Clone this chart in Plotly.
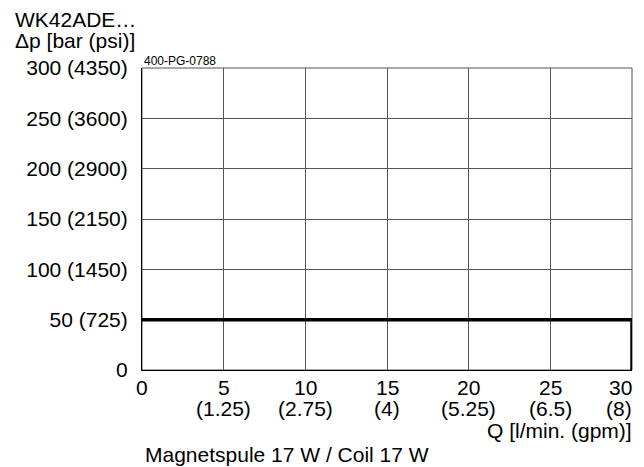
import plotly.graph_objects as go

# Data
flow_q = [0, 30, 30]          # l/min
dp_bar = [50, 50, 0]          # bar
x_ticks = [0, 5, 10, 15, 20, 25, 30]
x_tick_main = ["0", "5", "10", "15", "20", "25", "30"]
x_tick_gpm = ["", "(1.25)", "(2.75)", "(4)", "(5.25)", "(6.5)", "(8)"]
y_ticks = [0, 50, 100, 150, 200, 250, 300]
y_tick_text = ["0", "50 (725)", "100 (1450)", "150 (2150)", "200 (2900)", "250 (3600)", "300 (4350)"]

FONT = "Liberation Sans, Arial, sans-serif"
FS = 21

fig = go.Figure()
fig.add_trace(go.Scatter(
    x=flow_q, y=dp_bar, mode="lines",
    line=dict(color="black", width=3.5),
    cliponaxis=False, showlegend=False, hoverinfo="skip",
))

L, R, T, B = 142, 12, 68, 97
W, H = 644, 467
plot_w = W - L - R

annotations = []
for xv, m, g in zip(x_ticks, x_tick_main, x_tick_gpm):
    anchor = "right" if xv == x_ticks[-1] else "center"
    xs = 2 if xv == x_ticks[-1] else 0
    annotations.append(dict(x=xv, y=0, xref="x", yref="paper", text=m, showarrow=False,
                            xanchor=anchor, yanchor="middle", yshift=-17, xshift=xs,
                            font=dict(size=FS, color="black", family=FONT)))
    if g:
        annotations.append(dict(x=xv, y=0, xref="x", yref="paper", text=g, showarrow=False,
                                xanchor=anchor, yanchor="middle", yshift=-38, xshift=xs,
                                font=dict(size=FS, color="black", family=FONT)))

annotations += [
    dict(x=1, y=0, xref="paper", yref="paper", text="Q [l/min. (gpm)]", showarrow=False,
         xanchor="right", yanchor="middle", yshift=-60, xshift=2,
         font=dict(size=FS, color="black", family=FONT)),
    dict(x=0, y=0, xref="paper", yref="paper", text="Magnetspule 17 W / Coil 17 W", showarrow=False,
         xanchor="left", yanchor="middle", yshift=-84, xshift=1,
         font=dict(size=FS, color="black", family=FONT)),
    dict(x=(13 - L) / plot_w, y=1, xref="paper", yref="paper", text="WK42ADE…", showarrow=False,
         xanchor="left", yanchor="middle", yshift=48.5,
         font=dict(size=FS, color="black", family=FONT)),
    dict(x=(13 - L) / plot_w, y=1, xref="paper", yref="paper", text="Δp [bar (psi)]", showarrow=False,
         xanchor="left", yanchor="middle", yshift=27.5,
         font=dict(size=FS, color="black", family=FONT)),
    dict(x=0, y=1, xref="paper", yref="paper", text="400-PG-0788", showarrow=False,
         xanchor="left", yanchor="middle", yshift=7,
         font=dict(size=12, color="black", family=FONT)),
]

fig.update_layout(
    width=W, height=H,
    margin=dict(l=L, r=R, t=T, b=B, pad=0),
    paper_bgcolor="white", plot_bgcolor="white",
    font=dict(family=FONT, size=FS, color="black"),
    annotations=annotations,
    xaxis=dict(range=[0, 30], tickvals=x_ticks, showticklabels=False,
               showgrid=True, gridcolor="#555", gridwidth=1,
               showline=True, linecolor="black", linewidth=1, mirror=False,
               zeroline=False, ticks=""),
    yaxis=dict(range=[0, 300], tickvals=y_ticks, ticktext=y_tick_text,
               showgrid=True, gridcolor="#555", gridwidth=1,
               showline=True, linecolor="black", linewidth=1,
               zeroline=False, ticks="", ticklabelstandoff=9,
               tickfont=dict(size=FS, color="black", family=FONT)),
)
fig.add_shape(type="rect", xref="paper", yref="paper", x0=0, y0=0, x1=1, y1=1,
              line=dict(color="#555", width=1), layer="below")

fig.write_html("out.html", config={"displayModeBar": False},
               post_script="document.body.style.margin='0';")
